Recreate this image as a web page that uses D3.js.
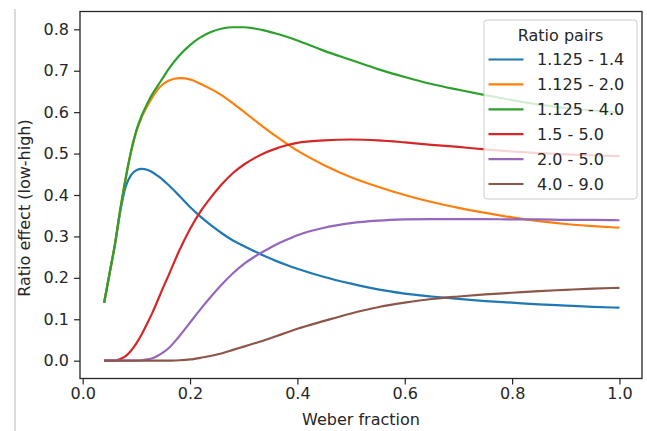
<!DOCTYPE html>
<html>
<head>
<meta charset="utf-8">
<script src="https://cdn.jsdelivr.net/npm/d3@7"></script>
<style>
  html, body { margin: 0; padding: 0; background: #fff; }
  svg { display: block; }
  text { font-family: "DejaVu Sans", sans-serif; fill: #262626; }
</style>
</head>
<body>
<svg id="chart" width="647" height="431"></svg>
<script>
// ---- data ----
const weberFractions = [0.04,0.05,0.06,0.07,0.08,0.09,0.10,0.11,0.12,0.13,0.14,0.15,0.16,0.18,0.20,0.22,0.24,0.26,0.28,0.30,0.32,0.34,0.36,0.38,0.40,0.45,0.50,0.55,0.60,0.65,0.70,0.75,0.80,0.85,0.90,0.95,1.00];

const pair_1125_14 = [0.14,0.21,0.28,0.36,0.42,0.448,0.460,0.463,0.461,0.455,0.446,0.436,0.424,0.398,0.371,0.347,0.326,0.307,0.290,0.277,0.264,0.252,0.241,0.231,0.222,0.202,0.186,0.172,0.162,0.155,0.149,0.144,0.140,0.136,0.133,0.130,0.128];
const pair_1125_20 = [0.14,0.21,0.28,0.365,0.44,0.503,0.553,0.588,0.614,0.636,0.655,0.668,0.676,0.682,0.679,0.668,0.655,0.640,0.621,0.601,0.581,0.561,0.542,0.524,0.507,0.472,0.443,0.420,0.400,0.383,0.369,0.357,0.346,0.337,0.330,0.325,0.321];
const pair_1125_40 = [0.14,0.21,0.28,0.365,0.44,0.505,0.556,0.592,0.620,0.644,0.664,0.684,0.704,0.737,0.762,0.781,0.794,0.802,0.805,0.805,0.802,0.797,0.790,0.782,0.773,0.748,0.726,0.704,0.685,0.668,0.654,0.641,0.629,0.618,0.610,0.604,0.600];
const pair_15_50   = [0,0,0,0.004,0.011,0.024,0.042,0.064,0.089,0.116,0.146,0.177,0.206,0.266,0.318,0.361,0.396,0.427,0.453,0.473,0.489,0.502,0.512,0.520,0.526,0.532,0.534,0.532,0.527,0.521,0.516,0.510,0.505,0.501,0.498,0.496,0.494];
const pair_20_50   = [0,0,0,0,0,0,0,0.001,0.003,0.006,0.012,0.020,0.030,0.059,0.092,0.125,0.156,0.185,0.211,0.233,0.251,0.266,0.280,0.292,0.303,0.321,0.332,0.338,0.341,0.342,0.342,0.342,0.341,0.341,0.340,0.340,0.339];
const pair_40_90   = [0,0,0,0,0,0,0,0,0,0,0,0,0,0.001,0.003,0.007,0.012,0.018,0.026,0.034,0.042,0.050,0.059,0.068,0.077,0.096,0.114,0.129,0.140,0.149,0.155,0.160,0.164,0.168,0.171,0.174,0.176];

const seriesLabels = ["1.125 - 1.4","1.125 - 2.0","1.125 - 4.0","1.5 - 5.0","2.0 - 5.0","4.0 - 9.0"];
const seriesValues = [pair_1125_14, pair_1125_20, pair_1125_40, pair_15_50, pair_20_50, pair_40_90];
const seriesColors = ["#1f77b4","#ff7f0e","#2ca02c","#d62728","#9467bd","#8c564b"];

const xTicks = [0.0,0.2,0.4,0.6,0.8,1.0];
const yTicks = [0.0,0.1,0.2,0.3,0.4,0.5,0.6,0.7,0.8];
const xLabel = "Weber fraction";
const yLabel = "Ratio effect (low-high)";
const legendTitle = "Ratio pairs";

// ---- layout ----
const svg = d3.select("#chart");
const L = 80, R = 642, T = 11.5, B = 378.5;
const fontSize = 16;

const x = d3.scaleLinear().domain([-0.005, 1.042]).range([L, R]);
const y = d3.scaleLinear().domain([-0.043, 0.843]).range([B, T]);

// stray page border line at the left of the screenshot
svg.append("line").attr("x1", 15).attr("x2", 15).attr("y1", 9).attr("y2", 431)
  .attr("stroke", "#b8b8b8").attr("stroke-width", 1);

// curves
const line = d3.line()
  .x((d, i) => x(weberFractions[i]))
  .y(d => y(d))
  .curve(d3.curveMonotoneX);

const plot = svg.append("g");
seriesValues.forEach((vals, k) => {
  plot.append("path")
    .datum(vals)
    .attr("d", line)
    .attr("fill", "none")
    .attr("stroke", seriesColors[k])
    .attr("stroke-width", 2.2)
    .attr("stroke-linejoin", "round")
    .attr("stroke-linecap", "butt");
});

// axes
const xAxis = d3.axisBottom(x).tickValues(xTicks).tickFormat(d3.format(".1f"))
  .tickSize(6).tickPadding(3.5);
const yAxis = d3.axisLeft(y).tickValues(yTicks).tickFormat(d3.format(".1f"))
  .tickSize(6).tickPadding(5);

const gx = svg.append("g").attr("transform", `translate(0,${B})`).call(xAxis);
const gy = svg.append("g").attr("transform", `translate(${L},0)`).call(yAxis);
[gx, gy].forEach(g => {
  g.select(".domain").remove();
  g.selectAll(".tick line").attr("stroke", "#262626").attr("stroke-width", 1.2);
  g.selectAll(".tick text").attr("font-size", fontSize)
    .attr("font-family", "DejaVu Sans, sans-serif").attr("fill", "#262626");
});

// frame
svg.append("rect").attr("x", L).attr("y", T).attr("width", R - L).attr("height", B - T)
  .attr("fill", "none").attr("stroke", "#262626").attr("stroke-width", 1.3);

// axis labels
svg.append("text").attr("x", (L + R) / 2).attr("y", 425)
  .attr("text-anchor", "middle").attr("font-size", fontSize).text(xLabel);
svg.append("text")
  .attr("transform", `translate(30,208) rotate(-90)`)
  .attr("text-anchor", "middle").attr("font-size", fontSize).text(yLabel);

// legend
const lg = svg.append("g");
const lx = 484, ly = 20, lw = 153, lh = 179;
lg.append("rect").attr("x", lx).attr("y", ly).attr("width", lw).attr("height", lh)
  .attr("rx", 3).attr("fill", "#fff").attr("fill-opacity", 0.8)
  .attr("stroke", "#cccccc").attr("stroke-width", 1);
lg.append("text").attr("x", lx + lw / 2).attr("y", 35).attr("dy", "0.35em")
  .attr("text-anchor", "middle").attr("font-size", fontSize).text(legendTitle);
seriesLabels.forEach((lab, k) => {
  const cy = 59.5 + k * 24.9;
  lg.append("line").attr("x1", 488.5).attr("x2", 523.5).attr("y1", cy).attr("y2", cy)
    .attr("stroke", seriesColors[k]).attr("stroke-width", 2.2);
  lg.append("text").attr("x", 537).attr("y", cy).attr("dy", "0.36em")
    .attr("font-size", fontSize).text(lab);
});
</script>
</body>
</html>
